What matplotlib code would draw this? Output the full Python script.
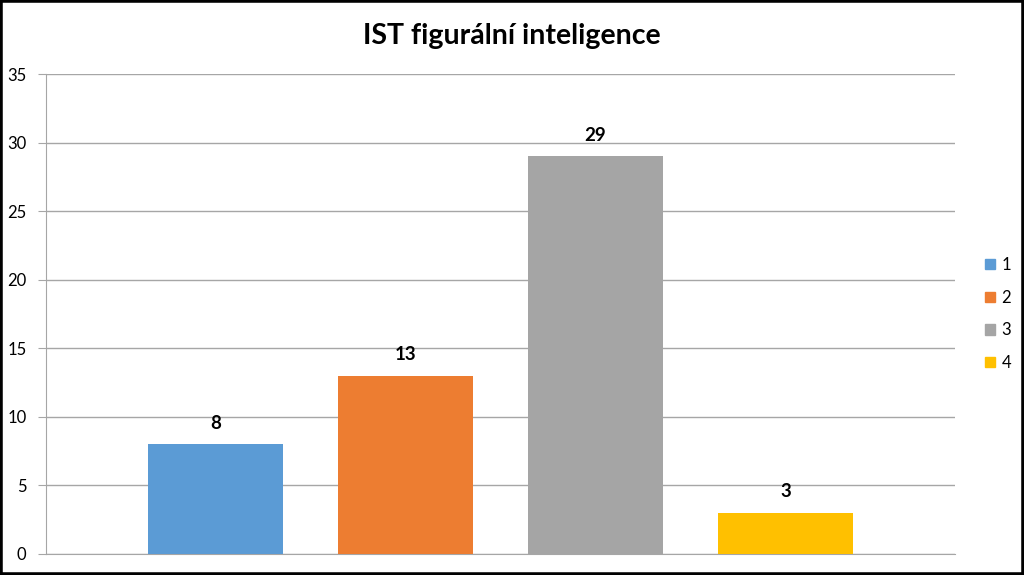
import numpy as np
from matplotlib import pyplot as plt
import matplotlib.patches as mpatches

plt.rcParams['font.family'] = ['Lato', 'DejaVu Sans']

categories = ["1", "2", "3", "4"]
values = [8, 13, 29, 3]
colors = ["#5b9bd5", "#ed7d31", "#a5a5a5", "#ffc000"]
yticks = [0, 5, 10, 15, 20, 25, 30, 35]

fig = plt.figure(figsize=(10.24, 5.75), dpi=100)
ax = fig.add_axes([46 / 1024, 1 - 554 / 575, (955 - 46) / 1024, (554 - 74) / 575])

X = np.arange(len(values))
bars = ax.bar(X, values, width=135 / 190, color=colors, zorder=3)
for x, v in zip(X, values):
    ax.annotate(str(v), (x, v), xytext=(0, 9), textcoords="offset points",
                ha="center", va="bottom", fontsize=13.5, fontweight="bold")

ax.set_xlim(-0.892, 3.892)
ax.set_ylim(0, 35)
ax.set_yticks(yticks)
ax.set_xticks([])
ax.grid(axis="y", color="#a6a6a6", linewidth=1, zorder=0)
for s in ["top", "right"]:
    ax.spines[s].set_visible(False)
ax.spines["left"].set_color("#a6a6a6")
ax.spines["bottom"].set_color("#a6a6a6")
ax.tick_params(axis="y", length=6, color="#a6a6a6", labelsize=12, pad=8)

fig.text(0.5, 1 - 36 / 575, "IST figurální inteligence", ha="center", va="center",
         fontsize=20.5, fontweight="bold")

handles = [mpatches.Patch(color=c, label=l) for c, l in zip(colors, categories)]
fig.legend(handles=handles, loc="center left", bbox_to_anchor=(970 / 1024, 1 - 314 / 575),
           frameon=False, fontsize=12, handlelength=0.6, handleheight=0.6,
           handletextpad=0.4, labelspacing=1.0)

fig.patches.append(mpatches.Rectangle((0, 0), 1, 1, transform=fig.transFigure,
                                      fill=False, edgecolor="black", linewidth=4))

plt.savefig("out.png")
